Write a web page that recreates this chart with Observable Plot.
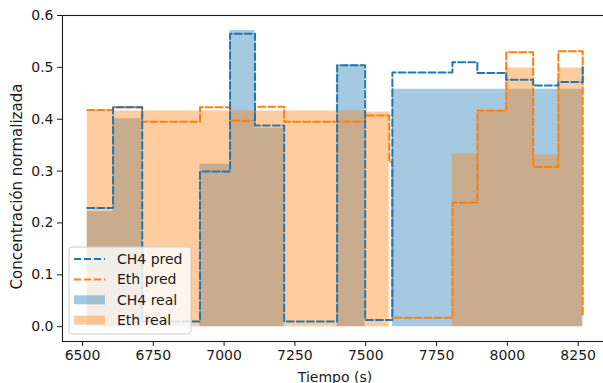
<!DOCTYPE html>
<html><head><meta charset="utf-8">
<script src="https://cdn.jsdelivr.net/npm/d3@7"></script>
<script src="https://cdn.jsdelivr.net/npm/@observablehq/plot@0.6"></script>
<style>
body{margin:0;overflow:hidden;background:#fff;}
#chart{position:relative;width:603px;height:383px;overflow:hidden;}
</style></head><body><div id="chart"></div>
<script>
// Time stamps (s) of each step
const tiempo = [6517, 6608, 6711, 6915, 7021, 7109, 7212, 7399, 7498, 7583, 7594, 7806, 7894, 7996, 8091, 8180, 8266];
const ch4Pred = [0.229, 0.423, 0.010, 0.299, 0.565, 0.388, 0.010, 0.504, 0.013, 0.013, 0.490, 0.510, 0.489, 0.476, 0.465, 0.472, 0.500];
const ethPred = [0.418, 0.423, 0.395, 0.423, 0.397, 0.424, 0.395, 0.395, 0.407, 0.318, 0.017, 0.239, 0.417, 0.529, 0.308, 0.531, 0.020];
const ch4Real = [0.222, 0.401, 0.000, 0.313, 0.571, 0.383, 0.000, 0.504, 0.000, 0.000, 0.458, 0.458, 0.458, 0.458, 0.458, 0.458, 0.458];
const ethReal = [0.416, 0.416, 0.416, 0.416, 0.416, 0.416, 0.416, 0.416, 0.414, 0.000, 0.000, 0.333, 0.417, 0.499, 0.331, 0.499, 0.499];

const xTicks = [6500, 6750, 7000, 7250, 7500, 7750, 8000, 8250];
const yTicks = [0.0, 0.1, 0.2, 0.3, 0.4, 0.5, 0.6];
const seriesNames = ["CH4 pred", "Eth pred", "CH4 real", "Eth real"];
const xLabel = "Tiempo (s)";
const yLabel = "Concentración normalizada";
const blue = "#1f77b4", orange = "#ff7f0e";

const rows = tiempo.map((t, i) => ({t, ch4Pred: ch4Pred[i], ethPred: ethPred[i], ch4Real: ch4Real[i], ethReal: ethReal[i]}));

const font = "DejaVu Sans";
const plot = Plot.plot({
  width: 603, height: 383,
  marginLeft: 62, marginTop: 15, marginBottom: 42, marginRight: -4,
  style: {fontFamily: font, fontSize: "14px", color: "#1a1a1a", background: "white", overflow: "hidden"},
  x: {domain: [6429.5, 8353.5], ticks: xTicks, tickFormat: d => String(d), tickSize: 5, tickPadding: 4, label: null},
  y: {domain: [-0.0286, 0.6], ticks: yTicks, tickFormat: d3.format(".1f"), tickSize: 5, tickPadding: 4, label: null},
  marks: [
    Plot.areaY(rows, {x: "t", y: "ch4Real", curve: "step-after", fill: blue, fillOpacity: 0.4}),
    Plot.areaY(rows, {x: "t", y: "ethReal", curve: "step-after", fill: orange, fillOpacity: 0.4}),
    Plot.line(rows, {x: "t", y: "ethPred", curve: "step-after", stroke: orange, strokeWidth: 2, strokeDasharray: "7,3"}),
    Plot.line(rows, {x: "t", y: "ch4Pred", curve: "step-after", stroke: blue, strokeWidth: 2, strokeDasharray: "7,3"}),
    Plot.frame({stroke: "#1a1a1a", strokeWidth: 1.1}),
    Plot.text([xLabel], {frameAnchor: "bottom", textAnchor: "middle", dy: 40, fontSize: 14, fill: "#1a1a1a"}),
    Plot.text([yLabel], {frameAnchor: "left", textAnchor: "middle", rotate: -90, dx: -45, dy: 8, fontSize: 15, fill: "#1a1a1a"})
  ]
});

// Legend (matplotlib-like box)
const svg = d3.select(plot);
const lg = svg.append("g").attr("transform", "translate(69,247)");
lg.append("rect").attr("width", 122).attr("height", 87).attr("rx", 3)
  .attr("fill", "white").attr("fill-opacity", 0.8).attr("stroke", "#cccccc");
const kinds = [
  {type: "line", color: blue}, {type: "line", color: orange},
  {type: "patch", color: blue}, {type: "patch", color: orange}
];
seriesNames.forEach((name, i) => {
  const cy = 12 + i * 20.4;
  const k = kinds[i];
  if (k.type === "line") {
    lg.append("line").attr("x1", 5).attr("x2", 36).attr("y1", cy).attr("y2", cy)
      .attr("stroke", k.color).attr("stroke-width", 2).attr("stroke-dasharray", "7,3");
  } else {
    lg.append("rect").attr("x", 5).attr("y", cy - 4.5).attr("width", 31).attr("height", 9)
      .attr("fill", k.color).attr("fill-opacity", 0.4);
  }
  lg.append("text").attr("x", 48).attr("y", cy).attr("text-anchor", "start").attr("dominant-baseline", "central")
    .attr("font-family", font).attr("font-size", 14).attr("fill", "#1a1a1a").text(name);
});

document.getElementById("chart").appendChild(plot);
</script>
</body></html>
